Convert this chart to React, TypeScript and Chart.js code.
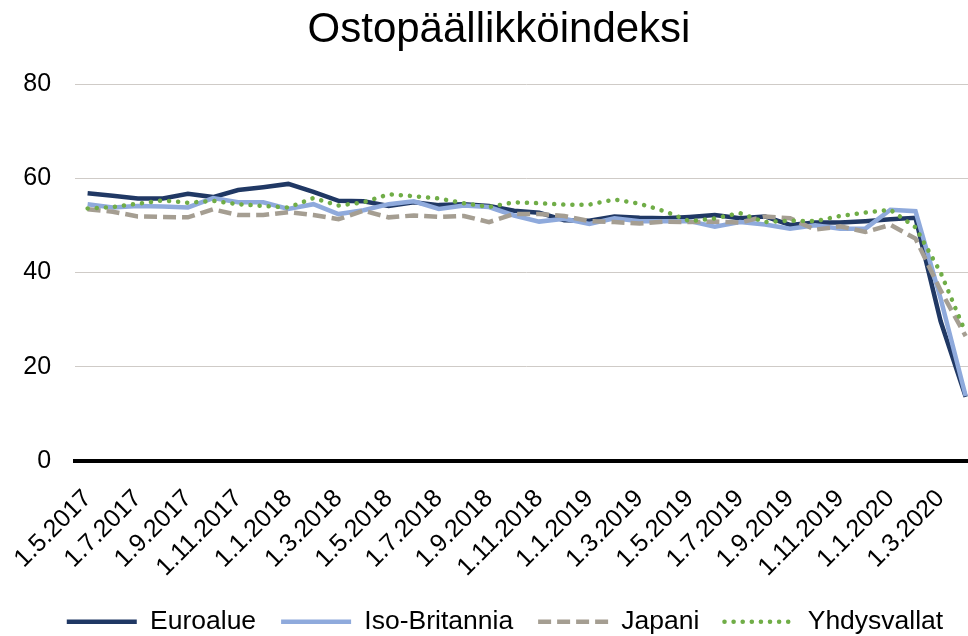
import React, { useEffect, useRef } from "react";
import { Chart, registerables } from "chart.js";

Chart.register(...registerables);

const TITLE = "Ostopäällikköindeksi";

const categories = [
  "1.5.2017", "1.6.2017", "1.7.2017", "1.8.2017", "1.9.2017", "1.10.2017",
  "1.11.2017", "1.12.2017", "1.1.2018", "1.2.2018", "1.3.2018", "1.4.2018",
  "1.5.2018", "1.6.2018", "1.7.2018", "1.8.2018", "1.9.2018", "1.10.2018",
  "1.11.2018", "1.12.2018", "1.1.2019", "1.2.2019", "1.3.2019", "1.4.2019",
  "1.5.2019", "1.6.2019", "1.7.2019", "1.8.2019", "1.9.2019", "1.10.2019",
  "1.11.2019", "1.12.2019", "1.1.2020", "1.2.2020", "1.3.2020", "1.4.2020",
];

const euroalue = [
  56.8, 56.3, 55.7, 55.7, 56.7, 56.0, 57.5, 58.1, 58.8, 57.1, 55.2, 55.1,
  54.1, 54.9, 54.3, 54.5, 54.1, 53.1, 52.7, 51.1, 51.0, 51.9, 51.6, 51.5,
  51.8, 52.2, 51.5, 51.9, 50.1, 50.6, 50.6, 50.9, 51.3, 51.6, 29.7, 13.6,
];

const isoBritannia = [
  54.5, 53.8, 54.1, 54.0, 53.8, 55.8, 54.9, 54.9, 53.5, 54.5, 52.4, 53.2,
  54.5, 55.1, 53.5, 54.2, 53.9, 52.1, 50.8, 51.4, 50.3, 51.5, 50.9, 50.9,
  50.9, 49.7, 50.7, 50.2, 49.3, 50.0, 49.3, 49.3, 53.3, 53.0, 34.5, 13.8,
];

const japani = [
  53.4, 52.9, 51.9, 51.8, 51.7, 53.4, 52.2, 52.2, 52.8, 52.2, 51.3, 53.1,
  51.7, 52.1, 51.8, 52.0, 50.7, 52.4, 52.4, 52.0, 50.9, 50.7, 50.4, 50.8,
  50.7, 50.8, 50.6, 51.9, 51.5, 49.1, 49.8, 48.6, 50.1, 47.2, 36.2, 26.5,
];

const yhdysvallat = [
  53.6, 53.9, 54.6, 55.3, 54.8, 55.2, 54.5, 54.1, 53.8, 55.8, 54.2, 54.9,
  56.6, 56.2, 55.7, 54.7, 53.9, 54.9, 54.7, 54.4, 54.4, 55.5, 54.6, 53.0,
  50.9, 51.5, 52.6, 50.7, 51.0, 50.9, 52.0, 52.7, 53.3, 49.6, 40.0, 27.2,
];

const yTicks = [0, 20, 40, 60, 80];

const FONT = "'Liberation Sans', Arial, sans-serif";

// small layout nudge: centre title and legend like the reference
const shiftBoxes = {
  id: "shiftBoxes",
  afterLayout(chart: any) {
    if (chart.legend) {
      chart.legend.left += 9;
      chart.legend.right += 9;
    }
    if (chart.titleBlock) {
      chart.titleBlock.left += 3;
      chart.titleBlock.right += 3;
    }
  },
};

export default function App() {
  const ref = useRef<HTMLCanvasElement>(null);

  useEffect(() => {
    const canvas = ref.current;
    if (!canvas) return;
    const chart = new Chart(canvas, {
      type: "line",
      data: {
        labels: categories,
        datasets: [
          {
            label: "Euroalue",
            data: euroalue,
            borderColor: "#203864",
            backgroundColor: "#203864",
            borderWidth: 4.5,
            pointRadius: 0,
            tension: 0,
            order: 4,
          },
          {
            label: "Iso-Britannia",
            data: isoBritannia,
            borderColor: "#8FAADC",
            backgroundColor: "#8FAADC",
            borderWidth: 4.5,
            pointRadius: 0,
            tension: 0,
            order: 3,
          },
          {
            label: "Japani",
            data: japani,
            borderColor: "#A59E92",
            backgroundColor: "#A59E92",
            borderWidth: 4.5,
            borderDash: [13, 6],
            pointRadius: 0,
            tension: 0,
            order: 2,
          },
          {
            label: "Yhdysvallat",
            data: yhdysvallat,
            borderColor: "#70AD47",
            backgroundColor: "#70AD47",
            borderWidth: 4.5,
            borderDash: [0.1, 9],
            borderCapStyle: "round",
            pointRadius: 0,
            tension: 0,
            order: 1,
          },
        ],
      },
      plugins: [shiftBoxes],
      options: {
        responsive: false,
        animation: false,
        devicePixelRatio: 1,
        layout: { padding: { left: 0, right: 13, top: 0, bottom: 0 } },
        plugins: {
          title: {
            display: true,
            text: TITLE,
            color: "#000",
            font: { family: FONT, size: 42, weight: "normal" },
            padding: { top: 5.5, bottom: 28.1 },
          },
          legend: {
            position: "bottom",
            labels: {
              usePointStyle: true,
              pointStyle: "line",
              pointStyleWidth: 70,
              color: "#000",
              font: { family: FONT, size: 26.5 },
              padding: 25,
              generateLabels: (c: any) =>
                c.data.datasets.map((ds: any, i: number) => ({
                  text: ds.label,
                  fillStyle: ds.borderColor,
                  strokeStyle: ds.borderColor,
                  lineWidth: ds.borderWidth,
                  lineDash: ds.borderDash || [],
                  lineCap: ds.borderCapStyle || "butt",
                  pointStyle: "line",
                  hidden: false,
                  datasetIndex: i,
                  fontColor: "#000",
                })),
            },
          },
          tooltip: { enabled: false },
        },
        scales: {
          x: {
            offset: true,
            grid: { display: false, drawTicks: false },
            border: { display: true, color: "#000", width: 4 },
            ticks: {
              autoSkip: false,
              maxRotation: 45,
              minRotation: 45,
              padding: 23,
              color: "#000",
              font: { family: FONT, size: 25 },
              callback: (_v: any, i: number) => (i % 2 === 0 ? categories[i] : ""),
            },
            afterFit: (scale: any) => {
              scale.height = 122.5;
            },
          },
          y: {
            min: yTicks[0],
            max: yTicks[yTicks.length - 1],
            ticks: {
              stepSize: 20,
              padding: 24,
              color: "#000",
              font: { family: FONT, size: 25 },
            },
            grid: {
              color: (ctx: any) => (ctx.tick && ctx.tick.value === 0 ? "rgba(0,0,0,0)" : "#CFCBC7"),
              lineWidth: 1,
              drawTicks: false,
            },
            border: { display: false },
          },
        },
      },
    });
    return () => chart.destroy();
  }, []);

  return (
    <div
      style={{
        position: "absolute",
        left: 0,
        top: 0,
        width: 968,
        height: 636,
        overflow: "hidden",
        background: "#fff",
      }}
    >
      <canvas
        ref={ref}
        width={1015}
        height={645}
        style={{ display: "block", position: "absolute", left: -5, top: 0, width: 1015, height: 645 }}
      />
    </div>
  );
}
